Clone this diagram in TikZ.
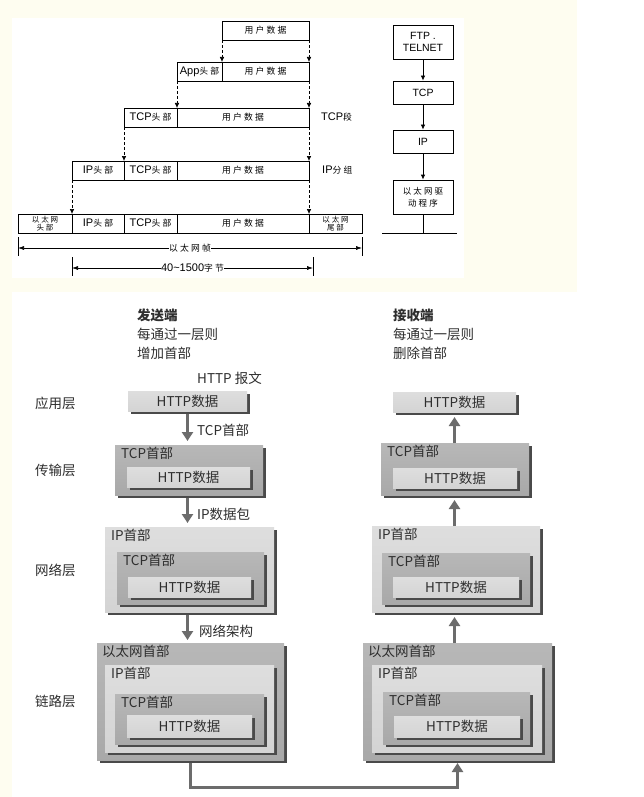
\documentclass[tikz,border=0pt]{standalone}
\usepackage{fontspec}
\setmainfont{Noto Sans CJK SC}
\newfontfamily\topfont[LetterSpace=25]{Noto Sans CJK SC}
\newfontfamily\latfont{Liberation Sans}
\usetikzlibrary{arrows.meta,shadows,calc}
\definecolor{bgy}{HTML}{FEFDF0}
\definecolor{txt}{HTML}{2E2E2E}
\definecolor{arr}{HTML}{6C6C6C}
\definecolor{shd}{HTML}{4A4A4A}
\newcommand\La[1]{{\latfont\fontsize{11}{11}\selectfont #1}}
\tikzset{
  cell/.style={draw, line width=0.8pt, inner sep=0pt, outer sep=0pt, minimum height=19pt,
    align=center, font=\topfont\fontsize{8.8}{9}\selectfont},
  small/.style={font=\topfont\fontsize{7.5}{8}\selectfont},
  dasharrow/.style={dashed, dash pattern=on 3pt off 2pt, line width=0.6pt, -{Latex[length=5pt,width=4.5pt]}},
  dimarrow/.style={line width=0.6pt, {Latex[length=6pt,width=4pt]}-{Latex[length=6pt,width=4pt]}},
  rbox/.style={draw, line width=0.8pt, minimum width=60pt, inner sep=0pt, align=center,
    font=\latfont\fontsize{10.5}{12}\selectfont},
  toplbl/.style={font=\topfont\fontsize{8.8}{9}\selectfont, inner sep=0pt},
  pkt/.style={rectangle, inner sep=0pt, outer sep=0pt, anchor=north west,
    drop shadow={shadow xshift=2.5pt, shadow yshift=-2.5pt, fill=shd, opacity=1},
    font=\fontsize{13.5}{14}\selectfont, text=txt},
  light/.style={pkt, top color=gray!26, bottom color=gray!34},
  mid/.style={pkt, top color=gray!56, bottom color=gray!68},
  lbl/.style={anchor=north west, inner xsep=6pt, inner ysep=2pt, font=\fontsize{13.5}{14}\selectfont, text=txt},
  note/.style={font=\fontsize{13.5}{14}\selectfont, text=txt, inner sep=0pt, anchor=west},
  garrow/.style={draw=arr, line width=3pt, -{Triangle[length=9pt,width=11pt]}},
}
\begin{document}
\begin{tikzpicture}[x=1pt,y=-1pt]
\useasboundingbox (0,0) rectangle (643,797);
% backgrounds
\fill[white] (0,0) rectangle (643,797);
\fill[bgy] (0,0) rectangle (577,292);
\fill[bgy] (0,0) rectangle (12,797);
\fill[white] (12,18) rectangle (464,278);
\fill[white] (12,292) rectangle (643,797);

% ---------- top-left encapsulation ----------
\node[cell, minimum width=87pt] (a1) at (265.5,30.5) {用户数据};
\node[cell, minimum width=45pt] (b1) at (199.5,71.5) {\La{App}头部};
\node[cell, minimum width=87pt] (b2) at (265.5,71.5) {用户数据};
\node[cell, minimum width=53pt] (c1) at (150.5,117.5) {\La{TCP}头部};
\node[cell, minimum width=132pt] (c2) at (243,117.5) {用户数据};
\node[cell, minimum width=52pt] (d1) at (98,170.5) {\La{IP}头部};
\node[cell, minimum width=53pt] (d2) at (150.5,170.5) {\La{TCP}头部};
\node[cell, minimum width=132pt] (d3) at (243,170.5) {用户数据};
\node[cell, small, minimum width=54pt] (e0) at (45,223.5) {以太网\\头部};
\node[cell, minimum width=52pt] (e1) at (98,223.5) {\La{IP}头部};
\node[cell, minimum width=53pt] (e2) at (150.5,223.5) {\La{TCP}头部};
\node[cell, minimum width=132pt] (e3) at (243,223.5) {用户数据};
\node[cell, small, minimum width=53pt] (e4) at (335.5,223.5) {以太网\\尾部};

\node[toplbl, anchor=west] (l1) at (321,117.5) {\La{TCP}段};
\node[toplbl, anchor=west] (l2) at (322,170.5) {\La{IP}分组};

\draw[dasharrow] (a1.south west) -- (b2.north west);
\draw[dasharrow] (a1.south east) -- (b2.north east);
\draw[dasharrow] (b1.south west) -- (c2.north west);
\draw[dasharrow] (b2.south east) -- (c2.north east);
\draw[dasharrow] (c1.south west) -- (d2.north west);
\draw[dasharrow] (c2.south east) -- (d3.north east);
\draw[dasharrow] (d1.south west) -- (e1.north west);
\draw[dasharrow] (d3.south east) -- (e3.north east);

% dimension lines
\coordinate (t1a) at (18,237); \coordinate (t1b) at (18,256);
\coordinate (t2a) at (362,237); \coordinate (t2b) at (362,256);
\coordinate (t3a) at (72,257); \coordinate (t3b) at (72,276);
\coordinate (t4a) at (313,257); \coordinate (t4b) at (313,276);
\draw[line width=0.6pt] (t1a) -- (t1b);
\draw[line width=0.6pt] (t2a) -- (t2b);
\draw[line width=0.6pt] (t3a) -- (t3b);
\draw[line width=0.6pt] (t4a) -- (t4b);
\coordinate (f1) at (18,248); \coordinate (f2) at (362,248);
\coordinate (f3) at (72,268); \coordinate (f4) at (313,268);
\draw[dimarrow] (f1) -- node[fill=white, inner xsep=8pt, inner ysep=0pt, toplbl] (fl1) {以太网帧} (f2);
\draw[dimarrow] (f3) -- node[fill=white, inner xsep=4pt, inner ysep=0pt, toplbl] (fl2) {\La{40\textasciitilde1500}字节} (f4);

% ---------- top-right stack ----------
\node[rbox, minimum height=34pt] (p1) at (423,42) {FTP .\\TELNET};
\node[rbox, minimum height=23pt] (p2) at (423,92.5) {TCP};
\node[rbox, minimum height=23pt] (p3) at (423,141.5) {IP};
\node[rbox, minimum height=34pt, font=\topfont\fontsize{8.5}{12}\selectfont] (p4) at (423,197) {以太网驱\\动程序};
\draw[line width=0.8pt, -{Latex[length=5pt,width=4.5pt]}] (p1) -- (p2);
\draw[line width=0.8pt, -{Latex[length=5pt,width=4.5pt]}] (p2) -- (p3);
\draw[line width=0.8pt, -{Latex[length=5pt,width=4.5pt]}] (p3) -- (p4);
\coordinate (g0) at (423,233); \coordinate (g1) at (382,233); \coordinate (g2) at (457,233);
\draw[line width=0.8pt] (p4) -- (g0);
\draw[line width=0.8pt] (g1) -- (g2);

% ---------- bottom: headers ----------
\node[note, font=\bfseries\fontsize{13.5}{14}\selectfont] (h1) at (137,315) {发送端};
\node[note] (h2) at (137,334) {每通过一层则};
\node[note] (h3) at (137,353) {增加首部};
\node[note, font=\bfseries\fontsize{13.5}{14}\selectfont] (h4) at (393,315) {接收端};
\node[note] (h5) at (393,334) {每通过一层则};
\node[note] (h6) at (393,353) {删除首部};
\node[note] (h7) at (197,378) {HTTP 报文};

\node[note] (y1) at (35,403) {应用层};
\node[note] (y2) at (35,470) {传输层};
\node[note] (y3) at (35,570) {网络层};
\node[note] (y4) at (35,701) {链路层};

% sender side
\node[light, minimum width=119pt, minimum height=20pt] (sA) at (128,391) {HTTP数据};

\node[mid, minimum width=148pt, minimum height=50pt, label={[lbl]north west:TCP首部}] (sT) at (115,445) {};
\node[light, minimum width=123pt, minimum height=20pt] (sTh) at (127,467) {HTTP数据};

\node[light, minimum width=169pt, minimum height=85pt, label={[lbl]north west:IP首部}] (sN) at (105,527) {};
\node[mid, minimum width=147pt, minimum height=52pt, label={[lbl]north west:TCP首部}] (sNt) at (117,552) {};
\node[light, minimum width=123pt, minimum height=20pt] (sNh) at (128,577) {HTTP数据};

\node[mid, minimum width=187pt, minimum height=117pt, label={[lbl, inner xsep=5pt]north west:以太网首部}] (sL) at (97,643) {};
\node[light, minimum width=169pt, minimum height=87pt, label={[lbl]north west:IP首部}] (sLi) at (105,665) {};
\node[mid, minimum width=149pt, minimum height=50pt, label={[lbl]north west:TCP首部}] (sLt) at (115,694) {};
\node[light, minimum width=125pt, minimum height=22pt] (sLh) at (127,715) {HTTP数据};

% receiver side
\node[light, minimum width=123pt, minimum height=20pt] (rA) at (393,392) {HTTP数据};

\node[mid, minimum width=148pt, minimum height=52pt, label={[lbl]north west:TCP首部}] (rT) at (381,443) {};
\node[light, minimum width=124pt, minimum height=20pt] (rTh) at (393,468) {HTTP数据};

\node[light, minimum width=168pt, minimum height=86pt, label={[lbl]north west:IP首部}] (rN) at (372,526) {};
\node[mid, minimum width=148pt, minimum height=51pt, label={[lbl]north west:TCP首部}] (rNt) at (382,553) {};
\node[light, minimum width=126pt, minimum height=20pt] (rNh) at (393,577) {HTTP数据};

\node[mid, minimum width=189pt, minimum height=117pt, label={[lbl, inner xsep=5pt]north west:以太网首部}] (rL) at (363,643) {};
\node[light, minimum width=170pt, minimum height=87pt, label={[lbl]north west:IP首部}] (rLi) at (372,665) {};
\node[mid, minimum width=147pt, minimum height=52pt, label={[lbl]north west:TCP首部}] (rLt) at (383,692) {};
\node[light, minimum width=126pt, minimum height=21pt] (rLh) at (394,716) {HTTP数据};

% arrows sender
\draw[garrow, shorten <=2.5pt, shorten >=4pt] (sA.south) -- (sA.south |- sT.north);
\draw[garrow, shorten <=2.5pt, shorten >=4pt] (sT.south -| sA.south) -- (sA.south |- sN.north);
\draw[garrow, shorten <=2.5pt, shorten >=3pt] (sN.south -| sA.south) -- (sA.south |- sL.north);
\node[note] (n1) at (197,430) {TCP首部};
\node[note] (n2) at (197,514) {IP数据包};
\node[note] (n3) at (199,631) {网络架构};

% arrows receiver
\draw[garrow, shorten <=0pt, shorten >=5pt] (rL.north -| rA.south) -- (rA.south |- rN.south);
\draw[garrow, shorten <=0pt, shorten >=5pt] (rN.north -| rA.south) -- (rA.south |- rT.south);
\draw[garrow, shorten <=0pt, shorten >=5pt] (rT.north -| rA.south) -- (rA.south);

% link
\draw[garrow, shorten <=2.5pt, shorten >=3pt] (sL.south) -- ++(0,27) -| (rL.south);
\end{tikzpicture}
\end{document}
